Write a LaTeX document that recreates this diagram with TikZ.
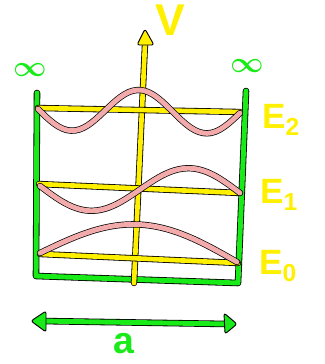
\documentclass[tikz,border=0pt]{standalone}
\usepackage{fontspec}
\setmainfont{Liberation Sans}
\usetikzlibrary{calc}
\definecolor{wallgreen}{RGB}{25,235,25}
\definecolor{lineyellow}{RGB}{255,240,0}
\definecolor{wavepink}{RGB}{242,170,170}

\begin{document}
\begin{tikzpicture}[x=0.03cm, y=-0.03cm,
    wall/.style={draw=black, line width=0.7pt, double=wallgreen, double distance=4.2pt, line cap=round, line join=round},
    level/.style={draw=black, line width=0.7pt, double=lineyellow, double distance=4pt, line cap=round, line join=round},
    wave/.style={draw=black, line width=0.6pt, double=wavepink, double distance=4.2pt, line cap=round},
    head/.style={draw=black, line width=0.8pt, line join=round},
    lab/.style={text=lineyellow, font=\fontsize{30}{30}\selectfont\bfseries},
    inf/.style={text=wallgreen, font=\fontsize{36}{36}\selectfont\boldmath}]
				\useasboundingbox (0,0) rectangle (324,364);
				
				% the well
				\coordinate (tl) at (37,93);
				\coordinate (bl) at (36,276);
				\coordinate (br) at (238,283);
				\coordinate (tr) at (246,91);
				\draw[wall] (tl) -- (bl) -- (br) -- (tr);
				
				\node[inf] (infl) at (30,70) {$\infty$};
				\node[inf, font=\fontsize{26}{26}\selectfont\boldmath] (infr) at (247,66) {$\infty$};
				
				% potential axis
				\coordinate (vbot) at (134,283);
				\coordinate (vtop) at (145,44);
				\draw[level] (vbot) -- (vtop);
				\draw[head, fill=lineyellow, rounded corners=2pt] (145,29) -- (154,45) -- (137,45) -- cycle;
				\node[lab, font=\fontsize{38}{38}\selectfont\bfseries] (vlab) at (170,20) {V};
				
				% energy levels
				\coordinate (e2l) at (38,108);
				\coordinate (e2r) at (240,112);
				\coordinate (e1l) at (39,184);
				\coordinate (e1r) at (240,193);
				\coordinate (e0l) at (40,254);
				\coordinate (e0r) at (238,263);
				\draw[level] (e2l) -- (e2r);
				\draw[level] (e1l) -- (e1r);
				\draw[level] (e0l) -- (e0r);
				
				\node[lab, anchor=west] (E2) at (258,120) {E\textsubscript{2}};
				\node[lab, anchor=west] (E1) at (256,195) {E\textsubscript{1}};
				\node[lab, anchor=west] (E0) at (255,266) {E\textsubscript{0}};
				
				% wave functions
				\draw[wave] plot[domain=0:1, samples=50, variable=\t]
				({38+202*\t}, {109+4*\t+21*sin(540*\t)});
				\draw[wave] plot[domain=0:1, samples=50, variable=\t]
				({40+200*\t}, {186+7*\t+23*sin(360*\t)});
				\draw[wave] plot[domain=0:1, samples=50, variable=\t]
				({40+197*\t}, {253+9*\t-33*sin(180*\t)});
				
				% width of the well
				\coordinate (al) at (40,321);
				\coordinate (ar) at (228,324);
				\draw[wall] (al) -- (ar);
				\draw[head, fill=wallgreen, rounded corners=2pt] (31,321) -- (46,311) -- (46,332) -- cycle;
				\draw[head, fill=wallgreen, rounded corners=2pt] (237,324) -- (224,313) -- (225,334) -- cycle;
				\node[inf, font=\fontsize{32}{32}\selectfont\bfseries] (alab) at (124,344) {a};
			\end{tikzpicture}
\end{document}
